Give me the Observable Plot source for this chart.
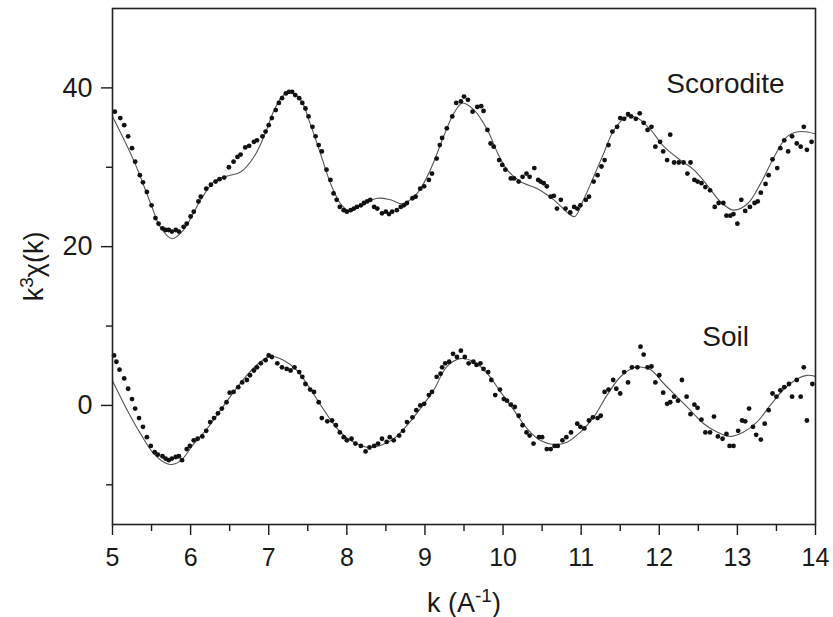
<!DOCTYPE html>
<html>
<head>
<meta charset="utf-8">
<script src="https://cdn.jsdelivr.net/npm/d3@7"></script>
<script src="https://cdn.jsdelivr.net/npm/@observablehq/plot@0.6"></script>
<style>
  html, body { margin: 0; padding: 0; background: #fff; }
  #chart { width: 833px; height: 617px; }
</style>
</head>
<body>
<div id="chart"></div>
<script>
// ---- Axis ticks ----
const majorX = [5, 6, 7, 8, 9, 10, 11, 12, 13, 14];
const minorX = [5.5, 6.5, 7.5, 8.5, 9.5, 10.5, 11.5, 12.5, 13.5];
const majorY = [0, 20, 40];
const minorY = [-10, 10, 30];

// ---- Scorodite: measured points ----
const scorK = [5.03,5.10,5.15,5.20,5.25,5.29,5.35,5.39,5.44,5.50,5.55,5.59,5.64,5.68,5.72,5.76,5.81,5.85,5.91,5.95,
  6.00,6.04,6.10,6.13,6.20,6.26,6.32,6.37,6.43,6.49,6.55,6.60,6.64,6.70,6.75,6.81,6.85,6.92,6.96,7.00,
  7.04,7.09,7.13,7.17,7.22,7.26,7.30,7.34,7.39,7.43,7.47,7.51,7.56,7.60,7.64,7.68,7.74,7.79,7.83,7.87,
  7.91,7.96,8.00,8.05,8.09,8.13,8.18,8.22,8.26,8.30,8.35,8.39,8.45,8.50,8.54,8.58,8.64,8.69,8.73,8.77,
  8.84,8.88,8.94,8.99,9.05,9.09,9.15,9.19,
  9.22,9.28,9.35,9.40,9.46,9.50,9.55,9.61,9.67,9.72,9.75,9.80,9.84,9.88,9.95,9.99,10.03,10.10,10.14,10.20,
  10.25,10.30,10.34,10.40,10.45,10.48,10.52,10.56,10.61,10.65,10.69,10.74,10.80,10.86,10.91,10.95,10.99,11.06,11.10,11.16,
  11.21,11.26,11.30,11.35,11.40,11.46,11.50,11.55,11.60,11.64,11.70,11.75,11.80,11.85,11.90,11.95,12.01,12.05,12.10,12.14,
  12.19,12.25,12.31,12.36,12.40,12.45,12.49,12.54,12.59,12.65,12.71,12.76,12.82,12.86,12.91,12.95,13.00,13.05,13.10,13.16,
  13.22,13.26,13.30,13.36,13.40,13.45,13.51,13.55,13.60,13.65,13.70,13.76,13.81,13.85,13.89,13.95];
const scorY = [37.0,36.2,35.3,33.9,32.4,30.7,29.0,28.1,26.9,25.2,23.6,22.9,22.3,22.1,22.1,21.9,22.1,21.9,22.5,22.9,
  23.8,24.4,25.7,26.3,27.3,27.8,28.2,28.5,28.7,30.0,30.7,31.3,31.6,32.5,32.7,33.2,33.4,33.9,34.5,35.3,
  36.2,37.2,38.1,38.7,39.3,39.5,39.5,39.1,38.7,38.1,37.4,36.4,35.1,33.9,32.8,32.0,29.7,28.4,26.7,25.9,
  25.0,24.6,24.4,24.6,24.8,25.0,25.2,25.5,25.7,25.9,25.0,24.8,24.2,24.4,24.1,24.4,24.6,25.0,25.2,25.5,
  26.1,26.3,27.3,27.6,28.4,29.2,31.1,32.8,
  33.7,34.9,36.4,38.1,38.3,38.9,38.5,37.0,37.6,37.7,37.1,34.7,33.0,32.6,30.9,30.3,29.7,28.6,28.6,28.2,
  28.8,29.2,28.8,29.9,28.4,28.2,28.0,27.6,26.3,26.4,24.8,25.9,24.8,24.3,25.0,24.8,25.2,25.9,26.3,28.2,
  29.0,30.1,30.9,32.8,34.5,35.1,36.2,36.1,36.7,36.4,36.1,36.8,35.6,34.7,35.1,32.6,33.2,32.0,30.9,34.1,
  30.6,30.6,30.6,29.2,30.6,28.4,28.2,28.0,27.5,27.1,25.0,25.5,25.5,23.9,23.9,24.1,22.9,25.9,24.5,25.0,
  25.5,25.7,26.8,27.9,29.0,31.0,29.9,32.4,33.4,32.0,33.9,33.0,32.6,35.1,32.2,33.2];

// ---- Scorodite: fit ----
const scorFitK = [5.00,5.27,5.49,5.61,5.76,5.91,6.13,6.30,6.47,6.64,6.81,6.94,7.07,7.17,7.26,7.41,7.53,7.66,7.79,7.92,
  8.03,8.18,8.39,8.56,8.71,8.90,9.07,9.24,9.37,9.48,9.63,9.80,9.93,10.05,10.22,10.44,10.65,10.86,10.92,11.03,
  11.16,11.29,11.42,11.59,11.72,11.89,12.06,12.27,12.44,12.61,12.78,12.95,13.13,13.30,13.47,13.64,13.81,14.00];
const scorFitY = [36.4,30.9,25.4,22.5,21.0,22.1,25.9,28.2,28.9,29.4,31.3,33.9,37.2,38.9,39.5,38.5,35.5,31.8,28.0,25.4,
  24.5,25.2,26.1,25.9,25.4,26.7,29.7,33.9,36.8,38.1,37.2,34.7,31.8,29.7,28.2,27.3,25.9,24.0,23.8,25.9,
  28.8,31.8,34.7,36.4,36.2,34.7,32.6,30.9,29.7,27.8,25.7,24.6,25.4,28.0,31.3,33.9,34.5,34.2];

// ---- Soil: measured points ----
const soilK = [5.02,5.05,5.09,5.15,5.20,5.25,5.29,5.34,5.39,5.44,5.49,5.54,5.58,5.64,5.68,5.72,5.76,5.81,5.85,5.89,
  5.95,5.99,6.04,6.09,6.15,6.20,6.25,6.30,6.35,6.40,6.46,6.50,6.55,6.61,6.66,6.72,6.76,6.81,6.85,6.90,
  6.96,7.00,7.04,7.11,7.17,7.23,7.28,7.33,7.39,7.43,7.47,7.53,7.58,7.64,7.68,7.75,7.81,7.86,7.91,7.96,
  8.00,8.06,8.11,8.18,8.24,8.29,8.35,8.40,8.45,8.51,8.55,8.60,8.67,8.72,8.77,8.84,8.89,8.94,8.99,9.05,
  9.09,9.15,9.20,
  9.22,9.26,9.31,9.36,9.41,9.46,9.51,9.56,9.62,9.66,9.71,9.75,9.81,9.85,9.90,9.96,10.01,10.05,10.10,10.15,
  10.20,10.25,10.30,10.34,10.39,10.46,10.50,10.56,10.61,10.66,10.70,10.76,10.81,10.87,10.95,10.99,11.04,11.10,11.15,11.21,
  11.25,11.30,11.35,11.41,11.45,11.50,11.55,11.60,11.65,11.72,11.76,11.80,11.85,11.90,11.95,12.00,12.05,12.10,12.14,12.19,
  12.24,12.29,12.35,12.40,12.45,12.49,12.54,12.59,12.65,12.70,12.75,12.81,12.86,12.90,12.95,13.01,13.06,13.10,13.15,13.20,
  13.24,13.30,13.35,13.40,13.45,13.50,13.55,13.60,13.66,13.70,13.76,13.81,13.85,13.89,13.96];
const soilY = [6.3,5.5,4.5,3.4,2.1,0.8,-0.4,-1.6,-2.7,-4.0,-5.1,-5.9,-6.2,-6.4,-6.7,-6.9,-6.7,-6.5,-6.4,-6.9,
  -5.5,-5.1,-4.4,-4.2,-3.9,-3.2,-2.1,-1.6,-1.0,-0.4,0.4,1.6,1.7,2.3,2.9,3.2,3.8,4.4,4.8,5.3,
  5.7,6.3,6.1,5.3,4.8,4.6,4.4,4.8,4.2,3.6,2.7,2.0,1.7,0.4,-1.6,-2.0,-1.9,-2.5,-3.4,-4.0,
  -4.4,-4.2,-4.8,-5.1,-5.8,-5.3,-5.1,-4.8,-4.2,-4.6,-4.0,-4.4,-3.8,-3.2,-2.1,-1.5,-0.6,0.0,0.2,1.3,
  1.7,3.6,4.0,
  4.8,5.3,5.5,6.5,6.1,6.9,6.1,5.3,5.5,5.1,5.3,4.6,4.2,3.2,1.3,2.0,0.8,0.6,0.1,-0.2,
  -1.3,-2.5,-3.4,-3.8,-4.8,-4.0,-4.0,-5.5,-5.5,-5.1,-5.1,-4.4,-4.0,-3.4,-2.3,-2.7,-2.9,-1.9,-1.5,-1.6,
  -1.3,1.7,2.0,3.2,2.1,1.5,4.2,2.9,4.8,4.8,7.4,6.4,4.8,4.9,2.9,3.8,1.6,0.2,0.4,1.1,
  0.6,3.2,1.1,-1.1,0.1,-0.3,-1.8,-3.4,-3.4,-1.4,-3.9,-4.2,-3.6,-5.1,-5.1,-3.2,-1.9,-2.0,-0.4,-2.7,
  -3.7,-4.3,-2.3,-0.6,1.5,1.1,1.9,2.3,2.7,1.1,3.2,1.1,4.8,-1.9,2.7];

// ---- Soil: fit ----
const soilFitK = [5.00,5.19,5.36,5.53,5.70,5.76,5.87,6.04,6.21,6.38,6.55,6.72,6.89,7.02,7.19,7.36,7.53,7.71,7.88,8.05,
  8.26,8.43,8.60,8.77,8.94,9.11,9.28,9.455,9.63,9.80,9.97,10.14,10.31,10.48,10.65,10.82,10.99,11.16,11.33,11.50,
  11.67,11.76,11.89,12.06,12.23,12.40,12.57,12.74,12.91,13.08,13.25,13.42,13.60,13.77,13.89,14.00];
const soilFitY = [3.1,-0.63,-3.58,-6.10,-7.36,-7.44,-7.02,-4.84,-2.94,-0.63,1.68,3.79,5.47,6.18,5.68,4.42,2.10,-0.63,-2.94,-4.42,
  -5.26,-5.05,-4.21,-2.52,-0.42,1.89,4.9,5.89,5.47,4.00,1.68,-0.63,-2.94,-4.42,-4.92,-4.63,-3.36,-1.47,1.26,3.58,
  4.75,4.84,4.50,2.73,1.05,-0.63,-2.31,-3.36,-3.91,-3.36,-2.10,0.00,2.10,3.36,3.79,3.66];

// ---- Annotations ----
const seriesLabels = [
  {k: 12.09, y: 39.3, text: "Scorodite"},
  {k: 12.55, y: 7.5, text: "Soil"}
];

const zip = (ks, ys) => ks.map((k, i) => ({k, y: ys[i]}));
const scorPts = zip(scorK, scorY), scorFit = zip(scorFitK, scorFitY);
const soilPts = zip(soilK, soilY), soilFit = zip(soilFitK, soilFitY);

const ink = "#1a1a1a";
const chart = Plot.plot({
  width: 833,
  height: 617,
  marginLeft: 112,
  marginRight: 18,
  marginTop: 8,
  marginBottom: 93,
  style: {fontFamily: "'Liberation Sans', Arial, sans-serif", fontSize: "27px", background: "#fff", color: ink},
  x: {domain: [5, 14]},
  y: {domain: [-15, 50]},
  marks: [
    Plot.line(scorFit, {x: "k", y: "y", curve: "catmull-rom", stroke: "#555", strokeWidth: 1.1}),
    Plot.line(soilFit, {x: "k", y: "y", curve: "catmull-rom", stroke: "#555", strokeWidth: 1.1}),
    Plot.dot(scorPts, {x: "k", y: "y", r: 2.4, fill: "#111", stroke: "none"}),
    Plot.dot(soilPts, {x: "k", y: "y", r: 2.4, fill: "#111", stroke: "none"}),
    Plot.axisX({ticks: majorX, tickSize: 11, tickPadding: 13, stroke: ink, strokeWidth: 1.4, fontSize: 25,
      label: null}),
    Plot.axisX({ticks: majorX, tickSize: 0, fill: ink, text: null, tickFormat: () => "", fontSize: 27,
      label: "k (A-1)", labelAnchor: "center", labelArrow: "none", labelOffset: 87}),
    Plot.axisX({ticks: minorX, tickSize: 7, stroke: ink, strokeWidth: 1.4, fill: "none"}),
    Plot.axisY({ticks: majorY, tickSize: 11, tickPadding: 9, stroke: ink, strokeWidth: 1.4,
      label: "k3χ(k)", labelAnchor: "center", labelArrow: "none", labelOffset: 89}),
    Plot.axisY({ticks: minorY, tickSize: 6, stroke: ink, strokeWidth: 1.4, fill: "none"}),
    Plot.frame({stroke: "#222", strokeWidth: 1.6}),
    Plot.text(seriesLabels, {x: "k", y: "y", text: "text", textAnchor: "start", lineAnchor: "bottom", fill: ink, fontSize: 28})
  ]
});

// superscripts in axis labels
d3.select(chart).selectAll("text").each(function () {
  const t = this.textContent;
  if (t === "k3χ(k)") {
    this.innerHTML = 'k<tspan font-size="19" dy="-10">3</tspan><tspan dy="10">χ(k)</tspan>';
  } else if (t === "k (A-1)") {
    this.innerHTML = 'k (A<tspan font-size="19" dy="-10">-1</tspan><tspan dy="10">)</tspan>';
  }
});

document.getElementById("chart").appendChild(chart);
</script>
</body>
</html>
